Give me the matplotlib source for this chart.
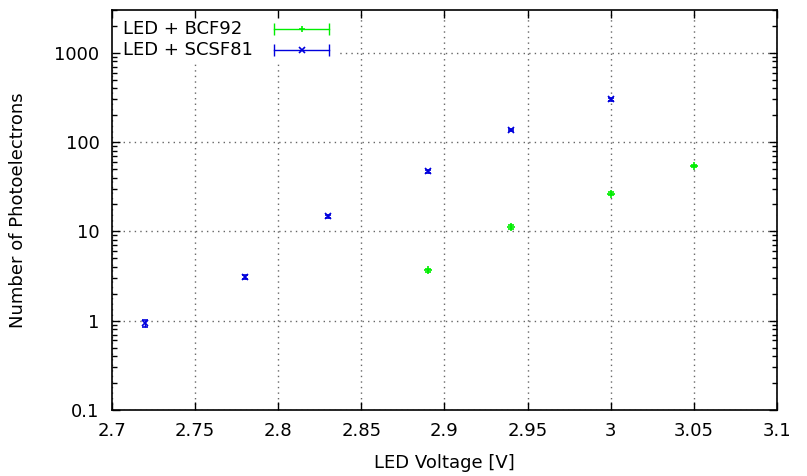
import numpy as np
import matplotlib
matplotlib.use("Agg")
import matplotlib.pyplot as plt
from matplotlib.patches import Rectangle
from matplotlib.ticker import LogLocator, FixedLocator, NullFormatter

# data
bcf_v = [2.89, 2.94, 3.00, 3.05]
bcf_npe = [3.65, 11.2, 26.5, 54.0]
bcf_err = [0.15, 0.5, 0.9, 1.6]

scsf_v = [2.72, 2.78, 2.83, 2.89, 2.94, 3.00]
scsf_npe = [0.94, 3.1, 14.7, 47.0, 137.0, 300.0]
scsf_err = [0.09, 0.15, 0.5, 1.5, 4.0, 9.0]

x_ticks = [2.7, 2.75, 2.8, 2.85, 2.9, 2.95, 3.0, 3.05, 3.1]
x_labels = ["2.7", "2.75", "2.8", "2.85", "2.9", "2.95", "3", "3.05", "3.1"]
y_ticks = [0.1, 1, 10, 100, 1000]
y_labels = ["0.1", "1", "10", "100", "1000"]

series_names = ["LED + BCF92", "LED + SCSF81"]

GREEN = "#00ee00"
BLUE = "#0000dd"
FS = 13

plt.rcParams["font.family"] = "DejaVu Sans"
fig = plt.figure(figsize=(8.07, 4.76), dpi=100)
ax = fig.add_axes([0.1388, 0.1387, 0.824, 0.840])

# dotted grid at the major ticks, under the (opaque) key box
for xv in x_ticks:
    ax.axvline(xv, color="#666666", linestyle=(0, (1, 3)), lw=1, zorder=0.8)
for yv in y_ticks:
    ax.axhline(yv, color="#666666", linestyle=(0, (1, 3)), lw=1, zorder=0.8)

ax.errorbar(bcf_v, bcf_npe, yerr=bcf_err, fmt="+", color=GREEN, ms=6,
            capsize=2.5, elinewidth=1, mew=1.2)
ax.errorbar(scsf_v, scsf_npe, yerr=scsf_err, fmt="x", color=BLUE, ms=5,
            capsize=2.5, elinewidth=1, mew=1.2)

ax.set_yscale("log")
ax.set_xlim(2.7, 3.1)
ax.set_ylim(0.1, 3000)
ax.xaxis.set_major_locator(FixedLocator(x_ticks))
ax.set_xticklabels(x_labels)
ax.yaxis.set_major_locator(FixedLocator(y_ticks))
ax.set_yticklabels(y_labels)
ax.yaxis.set_minor_locator(LogLocator(base=10, subs=np.arange(2, 10)))
ax.yaxis.set_minor_formatter(NullFormatter())

ax.tick_params(which="both", direction="in", top=True, right=True,
               labelsize=FS)
ax.tick_params(axis="x", pad=9)
ax.tick_params(axis="y", pad=9)
ax.tick_params(which="major", length=6, width=1)
ax.tick_params(which="minor", length=3.5, width=1)
for s in ax.spines.values():
    s.set_linewidth(1.2)

ax.set_xlabel("LED Voltage [V]", fontsize=FS, labelpad=10)
ax.set_ylabel("Number of Photoelectrons", fontsize=FS, labelpad=20)

# gnuplot style key: opaque box, text on the left, sample with caps on the right
ax.add_patch(Rectangle((0.0, 0.87), 0.338, 0.13, transform=ax.transAxes,
                       facecolor="white", edgecolor="none", zorder=1))
key_rows = [(series_names[0], GREEN, "+", 0.9525),
            (series_names[1], BLUE, "x", 0.900)]
for name, col, mk, ky in key_rows:
    ax.text(0.0165, ky, name, transform=ax.transAxes, fontsize=FS,
            ha="left", va="center", zorder=3)
    ax.plot([0.2436, 0.326], [ky, ky], color=col, lw=1,
            transform=ax.transAxes, clip_on=False, zorder=3)
    ax.plot([0.2436, 0.326], [ky, ky], color=col, lw=0, marker="|", ms=8,
            mew=1, transform=ax.transAxes, clip_on=False, zorder=3)
    ax.plot([0.285], [ky], color=col, lw=0, marker=mk, ms=5, mew=1.2,
            transform=ax.transAxes, clip_on=False, zorder=3)

fig.savefig("out.png", dpi=100)
